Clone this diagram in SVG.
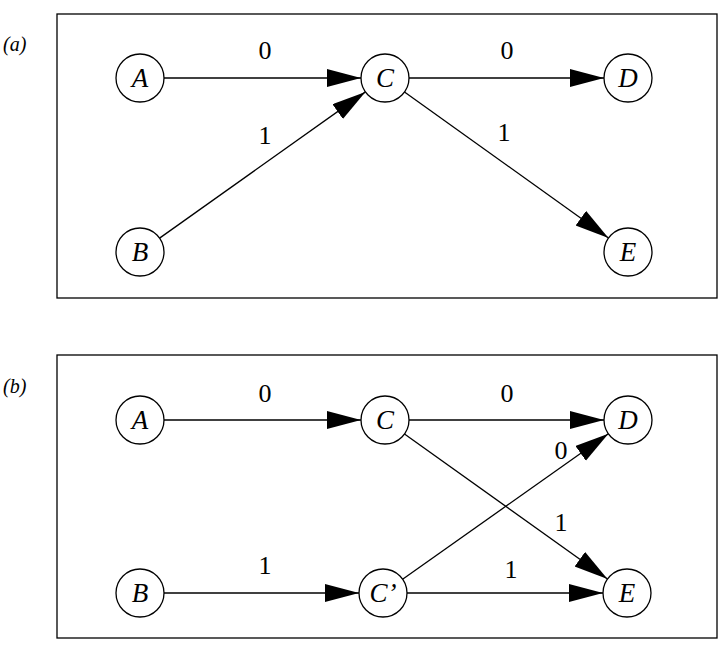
<svg xmlns="http://www.w3.org/2000/svg" width="727" height="650" viewBox="0 0 727 650">
<style>
.frame{fill:none;stroke:#000;stroke-width:1.3}
.node circle{fill:#fff;stroke:#000;stroke-width:1.3}
.node text{font-family:"Liberation Serif","Times New Roman",serif;font-style:italic;font-size:27px;text-anchor:middle;fill:#000}
.edge{stroke:#000;stroke-width:1.3;fill:none;marker-end:url(#arr)}
.lbl{font-family:"Liberation Serif","Times New Roman",serif;font-size:26px;text-anchor:middle;fill:#000}
.tag{font-family:"Liberation Serif","Times New Roman",serif;font-style:italic;font-size:20px;fill:#000}
</style>
<defs>
<marker id="arr" markerUnits="userSpaceOnUse" markerWidth="36" markerHeight="20" refX="34" refY="9" orient="auto">
<path d="M0,0 L34,9 L0,18 z" fill="#000"/>
</marker>
</defs>
<rect x="0" y="0" width="727" height="650" fill="#fff"/>
<text class="tag" x="3" y="51">(a)</text>
<text class="tag" x="3" y="393">(b)</text>
<rect class="frame" x="57" y="14" width="660" height="284"/>
<rect class="frame" x="57" y="355" width="660" height="283"/>
<g id="connectors">
<line class="edge" x1="164" y1="78" x2="361" y2="78"/>
<line class="edge" x1="409" y1="78" x2="604" y2="78"/>
<line class="edge" x1="159.6" y1="238.1" x2="365.4" y2="91.9"/>
<line class="edge" x1="404.5" y1="92" x2="608.5" y2="238"/>
<line class="edge" x1="164" y1="420" x2="361" y2="420"/>
<line class="edge" x1="409" y1="420" x2="604" y2="420"/>
<line class="edge" x1="404.5" y1="434" x2="607.5" y2="579"/>
<line class="edge" x1="402.6" y1="579.2" x2="608.4" y2="433.8"/>
<line class="edge" x1="164" y1="593" x2="359" y2="593"/>
<line class="edge" x1="407" y1="593" x2="603" y2="593"/>
<text class="lbl" x="265" y="59">0</text>
<text class="lbl" x="507" y="59">0</text>
<text class="lbl" x="265" y="144">1</text>
<text class="lbl" x="504" y="141">1</text>
<text class="lbl" x="265" y="402">0</text>
<text class="lbl" x="507" y="402">0</text>
<text class="lbl" x="561" y="459">0</text>
<text class="lbl" x="561" y="531">1</text>
<text class="lbl" x="265" y="574">1</text>
<text class="lbl" x="511" y="578">1</text>
</g>
<g id="a-A" class="node"><circle cx="140" cy="78" r="24"/><text x="140" y="87">A</text></g>
<g id="a-B" class="node"><circle cx="140" cy="252" r="24"/><text x="140" y="261">B</text></g>
<g id="a-C" class="node"><circle cx="385" cy="78" r="24"/><text x="385" y="87">C</text></g>
<g id="a-D" class="node"><circle cx="628" cy="78" r="24"/><text x="628" y="87">D</text></g>
<g id="a-E" class="node"><circle cx="628" cy="252" r="24"/><text x="628" y="261">E</text></g>
<g id="b-A" class="node"><circle cx="140" cy="420" r="24"/><text x="140" y="429">A</text></g>
<g id="b-B" class="node"><circle cx="140" cy="593" r="24"/><text x="140" y="602">B</text></g>
<g id="b-C" class="node"><circle cx="385" cy="420" r="24"/><text x="385" y="429">C</text></g>
<g id="b-Cp" class="node"><circle cx="383" cy="593" r="24"/><text x="383" y="602">C’</text></g>
<g id="b-D" class="node"><circle cx="628" cy="420" r="24"/><text x="628" y="429">D</text></g>
<g id="b-E" class="node"><circle cx="627" cy="593" r="24"/><text x="627" y="602">E</text></g>
</svg>
